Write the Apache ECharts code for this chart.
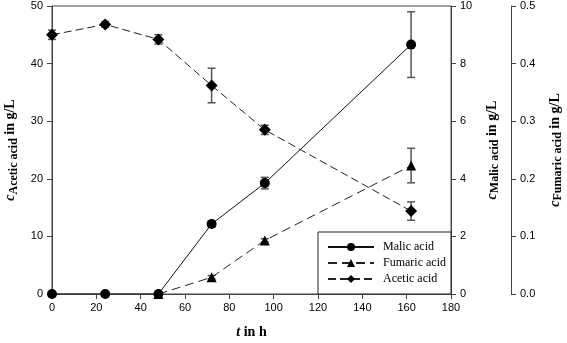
<!DOCTYPE html>
<html>
<head>
<meta charset="utf-8">
<script src="https://cdn.jsdelivr.net/npm/echarts@6/dist/echarts.min.js"></script>
<style>
  html, body { margin: 0; padding: 0; background: #fff; }
  #chart { width: 567px; height: 343px; }
</style>
</head>
<body>
<div id="chart"></div>
<script>
// time points (h)
const timeMalic = [0, 24, 48, 72, 96, 162];
const timeFumaric = [48, 72, 96, 162];
const timeAcetic = [0, 24, 48, 72, 96, 162];

// concentrations in g/L
const malicValues = [0, 0, 0, 2.43, 3.85, 8.66];
const malicErr = [0, 0, 0, 0.1, 0.2, 1.14];
const fumaricValues = [0, 0.029, 0.093, 0.223];
const fumaricErr = [0, 0.003, 0.003, 0.03];
const aceticValues = [45.0, 46.8, 44.2, 36.2, 28.5, 14.4];
const aceticErr = [0.8, 0.5, 0.8, 3.0, 0.8, 1.6];

const chart = echarts.init(document.getElementById('chart'));

const pairs = (t, v) => t.map((x, i) => [x, v[i]]);
const errData = (t, v, e) => t.map((x, i) => [x, v[i] - e[i], v[i] + e[i]]);

// error bar drawn with the axis scales
function errorBar(params, api) {
    const lo = api.coord([api.value(0), api.value(1)]);
    const hi = api.coord([api.value(0), api.value(2)]);
    const w = 4;
    const style = { stroke: '#555', lineWidth: 1.5 };
    return {
        type: 'group',
        children: [
            { type: 'line', shape: { x1: lo[0], y1: lo[1], x2: hi[0], y2: hi[1] }, style: style },
            { type: 'line', shape: { x1: lo[0] - w, y1: lo[1], x2: lo[0] + w, y2: lo[1] }, style: style },
            { type: 'line', shape: { x1: hi[0] - w, y1: hi[1], x2: hi[0] + w, y2: hi[1] }, style: style }
        ]
    };
}

const tickFont = { color: '#000', fontSize: 11, fontFamily: 'Liberation Sans' };
const nameRich = {
    c: { fontFamily: 'Liberation Serif', fontStyle: 'italic', fontWeight: 'bold', fontSize: 14, lineHeight: 16, verticalAlign: 'top', color: '#000' },
    s: { fontFamily: 'Liberation Serif', fontWeight: 'bold', fontSize: 12, lineHeight: 14, verticalAlign: 'bottom', padding: [6, 0, 0, 0], color: '#000' },
    t: { fontFamily: 'Liberation Serif', fontWeight: 'bold', fontSize: 14, lineHeight: 16, verticalAlign: 'top', color: '#000' }
};
const axisLine = { show: true, lineStyle: { color: '#444', width: 1 } };
const axisTick = { show: true, inside: false, length: 5, lineStyle: { color: '#444' } };

const option = {
    animation: false,
    backgroundColor: '#fff',
    grid: {
        left: 52, right: 116, top: 6, bottom: 49,
        outerBoundsMode: 'none',
        containLabel: false,
        show: true, borderColor: '#444', borderWidth: 1
    },
    legend: {
        orient: 'vertical',
        right: 116,
        bottom: 49,
        itemWidth: 46,
        itemHeight: 10,
        itemGap: 4,
        padding: [9, 5, 9, 9],
        borderColor: '#222',
        borderWidth: 1,
        backgroundColor: '#fff',
        data: ['Malic acid', 'Fumaric acid', 'Acetic acid'],
        textStyle: { fontFamily: 'Liberation Serif', fontSize: 12, color: '#000', padding: [0, 0, 0, 4] }
    },
    xAxis: {
        type: 'value',
        min: 0, max: 180, interval: 20,
        name: '{c|t}{t| in h}',
        nameLocation: 'middle',
        nameGap: 31,
        nameTextStyle: { rich: nameRich },
        axisLine: axisLine,
        axisTick: axisTick,
        axisLabel: Object.assign({ margin: 8 }, tickFont),
        splitLine: { show: false }
    },
    yAxis: [
        {
            type: 'value', position: 'left',
            min: 0, max: 50, interval: 10,
            name: '{c|c}{s|Acetic acid}{t| in g/L}',
            nameLocation: 'middle', nameRotate: 90, nameGap: 31,
            nameTextStyle: { rich: nameRich },
            axisLine: axisLine, axisTick: axisTick,
            axisLabel: Object.assign({ margin: 9 }, tickFont),
            splitLine: { show: false }
        },
        {
            type: 'value', position: 'right',
            min: 0, max: 10, interval: 2,
            name: '{c|c}{s|Malic acid}{t| in g/L}',
            nameLocation: 'middle', nameRotate: 90, nameGap: 32,
            nameTextStyle: { rich: nameRich },
            axisLine: axisLine, axisTick: axisTick,
            axisLabel: Object.assign({ margin: 9 }, tickFont),
            splitLine: { show: false }
        },
        {
            type: 'value', position: 'right', offset: 60,
            min: 0, max: 0.5, interval: 0.1,
            name: '{c|c}{s|Fumaric acid}{t| in g/L}',
            nameLocation: 'middle', nameRotate: 90, nameGap: 34,
            nameTextStyle: { rich: nameRich },
            axisLine: axisLine, axisTick: axisTick,
            axisLabel: Object.assign({ margin: 9, formatter: v => v.toFixed(1) }, tickFont),
            splitLine: { show: false }
        }
    ],
    series: [
        {
            type: 'custom', yAxisIndex: 1, z: 1, silent: true,
            renderItem: errorBar, encode: { x: 0, y: [1, 2] },
            data: errData(timeMalic, malicValues, malicErr)
        },
        {
            type: 'custom', yAxisIndex: 2, z: 1, silent: true,
            renderItem: errorBar, encode: { x: 0, y: [1, 2] },
            data: errData(timeFumaric, fumaricValues, fumaricErr)
        },
        {
            type: 'custom', yAxisIndex: 0, z: 1, silent: true,
            renderItem: errorBar, encode: { x: 0, y: [1, 2] },
            data: errData(timeAcetic, aceticValues, aceticErr)
        },
        {
            name: 'Malic acid', type: 'line', yAxisIndex: 1, z: 3,
            symbol: 'circle', symbolSize: 10,
            itemStyle: { color: '#000' },
            lineStyle: { color: '#111', width: 1, type: 'solid' },
            data: pairs(timeMalic, malicValues)
        },
        {
            name: 'Fumaric acid', type: 'line', yAxisIndex: 2, z: 3,
            symbol: 'triangle', symbolSize: 10,
            itemStyle: { color: '#000' },
            lineStyle: { color: '#222', width: 1, type: [9, 5] },
            data: pairs(timeFumaric, fumaricValues)
        },
        {
            name: 'Acetic acid', type: 'line', yAxisIndex: 0, z: 3,
            symbol: 'diamond', symbolSize: 12,
            itemStyle: { color: '#000' },
            lineStyle: { color: '#222', width: 1, type: [8, 4] },
            data: pairs(timeAcetic, aceticValues)
        }
    ]
};

chart.setOption(option);
</script>
</body>
</html>
